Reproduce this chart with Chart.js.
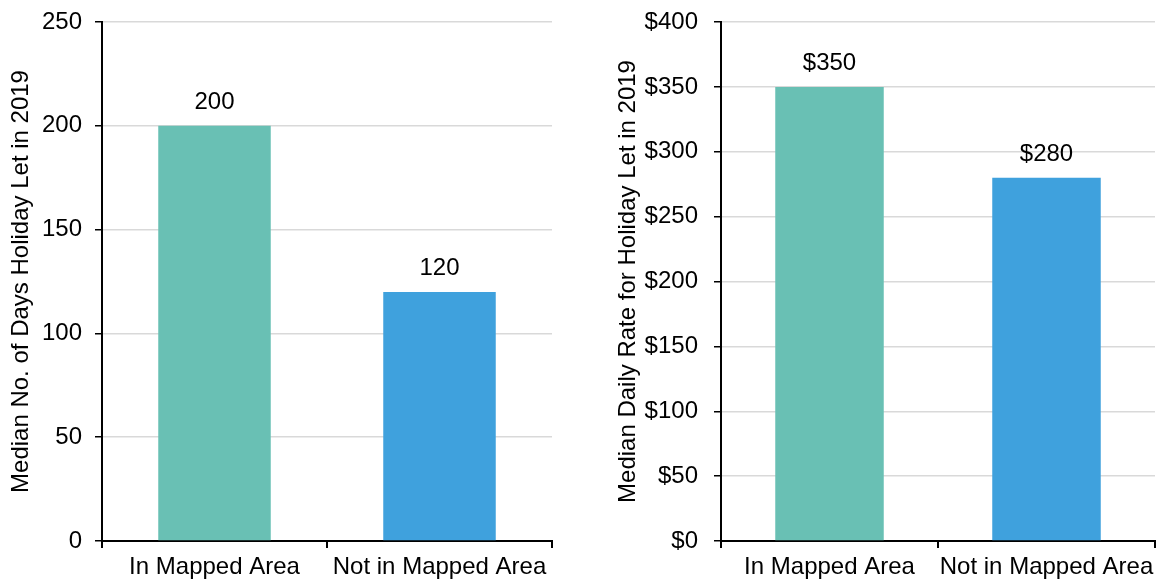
<!DOCTYPE html>
<html>
<head>
<meta charset="utf-8">
<script src="https://cdn.jsdelivr.net/npm/chart.js@4"></script>
<style>
  body { margin: 0; background: #fff; width: 1160px; height: 585px; position: relative; overflow: hidden; }
  .box { position: absolute; top: 0; height: 585px; }
</style>
</head>
<body>
<div class="box" style="left:0;width:565px"><canvas id="daysChart"></canvas></div>
<div class="box" style="left:600px;width:560px"><canvas id="rateChart"></canvas></div>
<script>
const categories = ['In Mapped Area', 'Not in Mapped Area'];
const medianDays = [200, 120];
const medianRate = [350, 280];
const barColors = ['#69c0b4', '#3fa1dd'];

const font = "'Liberation Sans', Arial, sans-serif";
Chart.defaults.font.family = font;
Chart.defaults.color = '#000';

// draws the value above every bar
const valueLabels = {
    id: 'valueLabels',
    afterDatasetsDraw(chart, args, opts) {
        const ctx = chart.ctx;
        ctx.save();
        ctx.font = '24px ' + font;
        ctx.fillStyle = '#000';
        ctx.textAlign = 'center';
        ctx.textBaseline = 'alphabetic';
        chart.getDatasetMeta(0).data.forEach((bar, i) => {
            const v = chart.data.datasets[0].data[i];
            ctx.fillText(opts.prefix + v, bar.x, bar.y - 17);
        });
        ctx.restore();
    }
};

function makeOptions(max, prefix, title, yWidth, titlePad, tickPad, rightPad) {
    return {
        responsive: true,
        maintainAspectRatio: false,
        animation: false,
        layout: { padding: { top: 22, right: rightPad, bottom: 0, left: 0 } },
        plugins: {
            legend: { display: false },
            tooltip: { enabled: false },
            valueLabels: { prefix: prefix },
        },
        scales: {
            x: {
                grid: {
                    offset: true,
                    drawOnChartArea: false,
                    tickColor: '#000',
                    tickLength: 7,
                    lineWidth: 2,
                },
                border: { color: '#000', width: 2 },
                ticks: { font: { size: 24 }, padding: 5, maxRotation: 0 },
                afterFit: (scale) => { scale.height = 44; },
            },
            y: {
                min: 0,
                max: max,
                grid: {
                    color: '#d9d9d9',
                    lineWidth: 1.5,
                    tickColor: '#000',
                    tickLength: 7,
                },
                border: { color: '#000', width: 2 },
                ticks: {
                    stepSize: 50,
                    padding: tickPad,
                    font: { size: 24 },
                    callback: (v) => prefix + v,
                },
                title: {
                    display: true,
                    text: title,
                    font: { size: 24 },
                    padding: { top: titlePad, bottom: 0 },
                },
                afterFit: (scale) => {
                    scale.width = yWidth;
                    scale.paddingTop = 0;
                },
            },
        },
    };
}

// Days holiday let chart
let daysCtx = document.getElementById('daysChart');
let daysChart = new Chart(daysCtx, {
    type: 'bar',
    data: {
        labels: categories,
        datasets: [{
            data: medianDays,
            backgroundColor: barColors,
            barPercentage: 0.5,
            categoryPercentage: 1,
        }]
    },
    options: makeOptions(250, '', 'Median No. of Days Holiday Let in 2019', 102, 7, 13, 13),
    plugins: [valueLabels],
});

// Daily rate chart
let rateCtx = document.getElementById('rateChart');
let rateChart = new Chart(rateCtx, {
    type: 'bar',
    data: {
        labels: categories,
        datasets: [{
            data: medianRate,
            backgroundColor: barColors,
            barPercentage: 0.5,
            categoryPercentage: 1,
        }]
    },
    options: makeOptions(400, '$', 'Median Daily Rate for Holiday Let in 2019', 121, 14, 16, 5),
    plugins: [valueLabels],
});
</script>
</body>
</html>
